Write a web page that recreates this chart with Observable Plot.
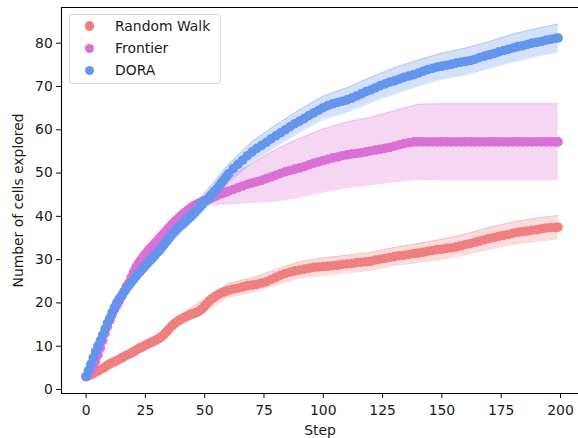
<!DOCTYPE html>
<html><head><meta charset="utf-8">
<script src="https://cdn.jsdelivr.net/npm/d3@7"></script>
<script src="https://cdn.jsdelivr.net/npm/@observablehq/plot@0.6"></script>
<style>
html,body{margin:0;padding:0;background:#fff;}
#wrap{position:relative;width:578px;height:438px;font-family:"DejaVu Sans",sans-serif;overflow:hidden;}
#legend{position:absolute;left:69px;top:14px;width:152px;height:70px;border:1px solid #d6d6d6;border-radius:3px;background:rgba(255,255,255,0.8);box-sizing:border-box;}
.sw{position:absolute;border-radius:50%;}
.lab{position:absolute;font-size:13.9px;line-height:17px;color:#1a1a1a;white-space:nowrap;}
</style></head><body><div id="wrap"></div>
<script>
// Series names and colours
const methods = ["Random Walk", "Frontier", "DORA"];
const colors = ["#F08080", "#DA70D6", "#6495ED"];

// Steps of the mean values: every step 0..59, then 60,62,...,198, then 199
const steps = d3.range(0, 60).concat(d3.range(60, 200, 2)).concat([199]);
// Steps at which the band half-widths are read: 0,10,...,190 and 199
const bandSteps = d3.range(0, 200, 10).concat([199]);

const randomWalk = [
  // steps 0..59
  3.0,3.2,3.4,3.7,4.0,4.3,4.6,4.9,5.2,5.6,
  5.9,6.2,6.4,6.7,7.0,7.3,7.6,7.9,8.1,8.4,
  8.7,9.1,9.4,9.7,9.9,10.2,10.5,10.8,11.0,11.3,
  11.6,11.9,12.3,12.8,13.4,14.0,14.6,15.1,15.5,15.9,
  16.2,16.5,16.8,17.0,17.3,17.5,17.7,17.9,18.2,18.7,
  19.3,19.9,20.5,21.0,21.3,21.7,22.0,22.3,22.5,22.7,
  // steps 60..198 by 2
  22.9,23.2,23.4,23.7,24.0,24.1,24.3,24.6,24.9,25.4,
  25.9,26.4,26.8,27.1,27.4,27.6,27.8,28.0,28.2,28.3,
  28.4,28.5,28.6,28.7,28.9,29.0,29.1,29.3,29.4,29.5,
  29.6,29.9,30.1,30.3,30.5,30.7,30.9,31.0,31.2,31.4,
  31.5,31.7,31.9,32.1,32.3,32.4,32.6,32.7,32.9,33.2,
  33.5,33.7,34.0,34.3,34.6,34.9,35.1,35.4,35.6,35.8,
  36.1,36.3,36.5,36.6,36.8,36.9,37.1,37.3,37.4,37.4,
  // step 199
  37.5
];
const frontier = [
  3.0,3.5,4.3,5.3,6.6,8.0,9.6,11.3,13.0,14.6,
  16.0,17.3,18.5,19.5,20.5,21.5,22.6,23.8,24.6,25.9,
  27.1,28.2,29.1,29.9,30.6,31.3,32.0,32.6,33.2,33.8,
  34.4,35.0,35.6,36.2,36.8,37.4,38.0,38.6,39.1,39.6,
  40.1,40.6,41.0,41.5,41.9,42.3,42.6,42.9,43.1,43.4,
  43.6,43.8,44.0,44.3,44.5,44.8,45.0,45.2,45.4,45.6,
  45.8,46.2,46.6,47.0,47.4,47.7,48.0,48.3,48.7,49.1,
  49.5,49.9,50.3,50.6,50.9,51.2,51.5,51.9,52.3,52.6,
  52.9,53.2,53.5,53.7,54.0,54.2,54.4,54.5,54.7,54.9,
  55.1,55.3,55.5,55.7,55.9,56.2,56.5,56.8,57.0,57.2,
  57.2,57.2,57.2,57.2,57.2,57.2,57.2,57.2,57.2,57.2,
  57.2,57.2,57.2,57.2,57.2,57.2,57.2,57.2,57.2,57.2,
  57.2,57.2,57.2,57.2,57.2,57.2,57.2,57.2,57.2,57.2,
  57.2
];
const dora = [
  3.0,4.4,5.8,7.3,8.8,10.1,11.3,12.6,14.0,15.3,
  16.5,17.8,19.0,20.1,21.0,21.7,22.6,23.3,24.0,24.7,
  25.4,26.1,26.8,27.4,28.0,28.6,29.2,29.8,30.4,31.0,
  31.6,32.2,32.9,33.6,34.3,35.0,35.7,36.3,36.9,37.4,
  37.9,38.4,38.9,39.4,39.9,40.4,41.0,41.6,42.2,42.8,
  43.4,43.9,44.5,45.1,45.7,46.3,47.0,47.7,48.4,49.1,
  49.8,51.0,52.0,53.0,54.0,54.9,55.7,56.4,57.1,57.9,
  58.6,59.3,60.0,60.7,61.4,62.0,62.6,63.3,63.9,64.5,
  65.1,65.6,66.0,66.3,66.6,66.9,67.3,67.8,68.3,68.8,
  69.2,69.7,70.2,70.6,71.0,71.3,71.7,72.1,72.4,72.7,
  73.1,73.5,73.9,74.2,74.5,74.7,74.9,75.1,75.4,75.6,
  75.8,76.0,76.3,76.7,77.0,77.3,77.6,78.0,78.3,78.6,
  78.9,79.2,79.4,79.7,80.0,80.2,80.4,80.7,80.9,81.1,
  81.2
];

// Band half-widths (standard deviation) at bandSteps
const randomWalkSd = [0,0.5,0.8,1.0,1.2,1.5,1.6,1.7,1.8,1.9,2.0,2.0,2.1,2.1,2.2,2.3,2.4,2.5,2.6,2.7,2.7];
const frontierSd   = [0,0.3,0.3,0.3,0.4,1.0,3.0,4.5,6.0,6.8,7.3,7.6,7.8,8.2,8.7,8.8,8.8,8.8,8.8,8.8,8.8];
const doraSd       = [0,1.0,1.3,1.5,1.7,2.0,2.2,2.4,2.5,2.6,2.7,2.8,2.9,3.0,3.0,3.0,3.1,3.1,3.2,3.2,3.2];

const xTicks = [0, 25, 50, 75, 100, 125, 150, 175, 200];
const yTicks = [0, 10, 20, 30, 40, 50, 60, 70, 80];

const means = [randomWalk, frontier, dora];
const sds = [randomWalkSd, frontierSd, doraSd];

const xDomain = [-10.37, 207.6];
const yDomain = [-0.924, 88.24];

const marks = [];
methods.forEach((m, k) => {
  const pts = steps.map((s, i) => ({step: s, value: means[k][i]}));
  const band = bandSteps.map((s, j) => {
    const v = means[k][steps.indexOf(s)];
    return {step: s, lo: v - sds[k][j], hi: v + sds[k][j]};
  });
  marks.push(Plot.areaY(band, {x: "step", y1: "lo", y2: "hi", fill: colors[k], fillOpacity: 0.28}));
  marks.push(Plot.lineY(band, {x: "step", y: "lo", stroke: colors[k], strokeOpacity: 0.3, strokeWidth: 1}));
  marks.push(Plot.lineY(band, {x: "step", y: "hi", stroke: colors[k], strokeOpacity: 0.3, strokeWidth: 1}));
  marks.push(Plot.dot(pts, {x: "step", y: "value", r: 4.8, fill: colors[k], stroke: "none"}));
});

const chart = Plot.plot({
  width: 578,
  height: 438,
  marginLeft: 61,
  marginRight: 0,
  marginTop: 7,
  marginBottom: 45,
  style: {fontFamily: "DejaVu Sans, sans-serif", fontSize: "13.9px", color: "#1a1a1a", background: "white", overflow: "hidden"},
  x: {domain: xDomain},
  y: {domain: yDomain},
  marks: [
    ...marks,
    Plot.axisX({ticks: xTicks, tickSize: 4.9, tickPadding: 6.3, label: null, tickFormat: d => String(d), stroke: "#000"}),
    Plot.axisY({ticks: yTicks, tickSize: 4.9, tickPadding: 3.8, label: null, tickFormat: d => String(d), stroke: "#000"}),
    Plot.ruleX([xDomain[0]], {stroke: "#000", strokeWidth: 1.1}),
    Plot.ruleY([yDomain[0]], {stroke: "#000", strokeWidth: 1.1}),
    Plot.ruleY([yDomain[1]], {stroke: "#000", strokeWidth: 1.1}),
    Plot.text(["Step"], {frameAnchor: "bottom", dy: 37, lineAnchor: "middle", fill: "#1a1a1a"}),
    Plot.text(["Number of cells explored"], {frameAnchor: "left", dx: -43, rotate: -90, lineAnchor: "middle", textAnchor: "middle", fill: "#1a1a1a"})
  ]
});

const wrap = document.getElementById("wrap");
wrap.appendChild(chart);

const legend = document.createElement("div");
legend.id = "legend";
wrap.appendChild(legend);
const rowY = [26, 48.5, 70.5];
methods.forEach((m, k) => {
  const sw = document.createElement("div");
  sw.className = "sw";
  const d = 9.4;
  sw.style.cssText = `left:${89.3 - d/2}px;top:${rowY[k] - d/2}px;width:${d}px;height:${d}px;background:${colors[k]};`;
  wrap.appendChild(sw);
  const t = document.createElement("div");
  t.className = "lab";
  t.textContent = m;
  t.style.left = "115px";
  t.style.top = (rowY[k] - 8.5) + "px";
  wrap.appendChild(t);
});
</script></body></html>
